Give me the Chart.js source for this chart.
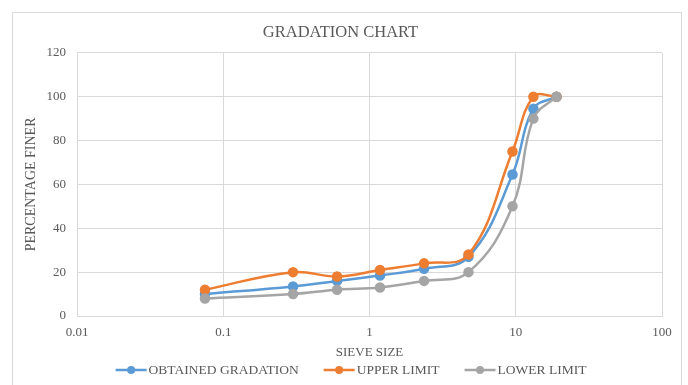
<!DOCTYPE html>
<html>
<head>
<meta charset="utf-8">
<script src="https://cdn.jsdelivr.net/npm/chart.js@4.4.0/dist/chart.umd.min.js"></script>
<style>
html,body{margin:0;padding:0;background:#fff;}
#wrap{position:relative;width:688px;height:385px;}
</style>
</head>
<body>
<div id="wrap"><canvas id="c" width="688" height="385"></canvas></div>
<script>
const sieveSizes = [0.075, 0.3, 0.6, 1.18, 2.36, 4.75, 9.5, 13.2, 19];
const obtained = [10, 13.5, 16, 18.5, 21.5, 27, 64.5, 94.5, 100];
const upperLimit = [12, 20, 18, 21, 24, 28, 75, 100, 100];
const lowerLimit = [8, 10, 12, 13, 16, 20, 50, 90, 100];
const xTicks = [0.01, 0.1, 1, 10, 100];
const seriesNames = ['OBTAINED GRADATION', 'UPPER LIMIT', 'LOWER LIMIT'];
const seriesColors = ['#5b9bd5', '#ed7d31', '#a5a5a5'];

const FONT = '"Liberation Serif", "Times New Roman", serif';
const TXT = '#595959';

function pts(vals){ return sieveSizes.map((s,i)=>({x:s,y:vals[i]})); }

const borderPlugin = {
  id:'outerBorder',
  beforeDraw(chart){
    const ctx = chart.ctx;
    ctx.save();
    ctx.fillStyle = '#fff';
    ctx.fillRect(0,0,chart.width,chart.height);
    ctx.strokeStyle = '#d9d9d9';
    ctx.lineWidth = 1;
    ctx.strokeRect(12.5, 12.5, 669, 390);
    ctx.restore();
  }
};

const legendPlugin = {
  id:'bottomLegend',
  afterDraw(chart){
    const ctx = chart.ctx;
    ctx.save();
    ctx.font = '13.5px ' + FONT;
    ctx.textBaseline = 'middle';
    ctx.textAlign = 'left';
    const iconW = 31, gapText = 2, gapItem = 25, y = 370, cx = 351;
    const items = chart.data.datasets.map(d=>({label:d.label, color:d.borderColor, w: ctx.measureText(d.label).width}));
    let total = 0;
    items.forEach((it,i)=>{ total += iconW + gapText + it.w + (i < items.length-1 ? gapItem : 0); });
    let x = cx - total/2;
    items.forEach(it=>{
      ctx.strokeStyle = it.color; ctx.lineWidth = 2.5;
      ctx.beginPath(); ctx.moveTo(x, y); ctx.lineTo(x+iconW, y); ctx.stroke();
      ctx.fillStyle = it.color;
      ctx.beginPath(); ctx.arc(x+iconW/2, y, 4, 0, Math.PI*2); ctx.fill();
      ctx.fillStyle = TXT;
      ctx.fillText(it.label, x+iconW+gapText, y+0.5);
      x += iconW + gapText + it.w + gapItem;
    });
    ctx.restore();
  }
};

const ds = [obtained, upperLimit, lowerLimit].map((v,i)=>({
  label: seriesNames[i],
  data: pts(v),
  borderColor: seriesColors[i],
  backgroundColor: seriesColors[i],
  borderWidth: 2.5,
  pointRadius: 4,
  pointHoverRadius: 4,
  tension: 0.4,
  fill: false,
  order: 3 - i
}));

new Chart(document.getElementById('c'), {
  type: 'line',
  data: { datasets: ds },
  plugins: [borderPlugin, legendPlugin],
  options: {
    responsive: false,
    animation: false,
    events: [],
    layout: { padding: { left: 19, right: 26, top: 14, bottom: 25 } },
    plugins: {
      title: {
        display: true, text: 'GRADATION CHART', color: TXT,
        font: { family: FONT, size: 16.5, weight: 'normal' },
        padding: { top: 9, bottom: 10 }
      },
      legend: { display: false },
      tooltip: { enabled: false }
    },
    scales: {
      x: {
        type: 'logarithmic', min: 0.01, max: 100,
        afterBuildTicks(scale){ scale.ticks = xTicks.map(v=>({value:v})); },
        afterFit(scale){ scale.height = 44; },
        ticks: {
          color: TXT, font: { family: FONT, size: 13 }, padding: 9,
          autoSkip: false, maxRotation: 0,
          callback(v){ return String(v); }
        },
        grid: { color: '#d9d9d9', drawTicks: false },
        border: { color: '#d9d9d9' },
        title: { display: true, text: 'SIEVE SIZE', color: TXT, font: { family: FONT, size: 13 }, padding: { top: 4, bottom: 0 } }
      },
      y: {
        min: 0, max: 120,
        afterFit(scale){ scale.width = 58; },
        ticks: { stepSize: 20, color: TXT, font: { family: FONT, size: 13 }, padding: 11 },
        grid: { color: '#d9d9d9', drawTicks: false },
        border: { display: false },
        title: { display: true, text: 'PERCENTAGE FINER', color: TXT, font: { family: FONT, size: 14 }, padding: { top: 4, bottom: 0 } }
      }
    }
  }
});
</script>
</body>
</html>
